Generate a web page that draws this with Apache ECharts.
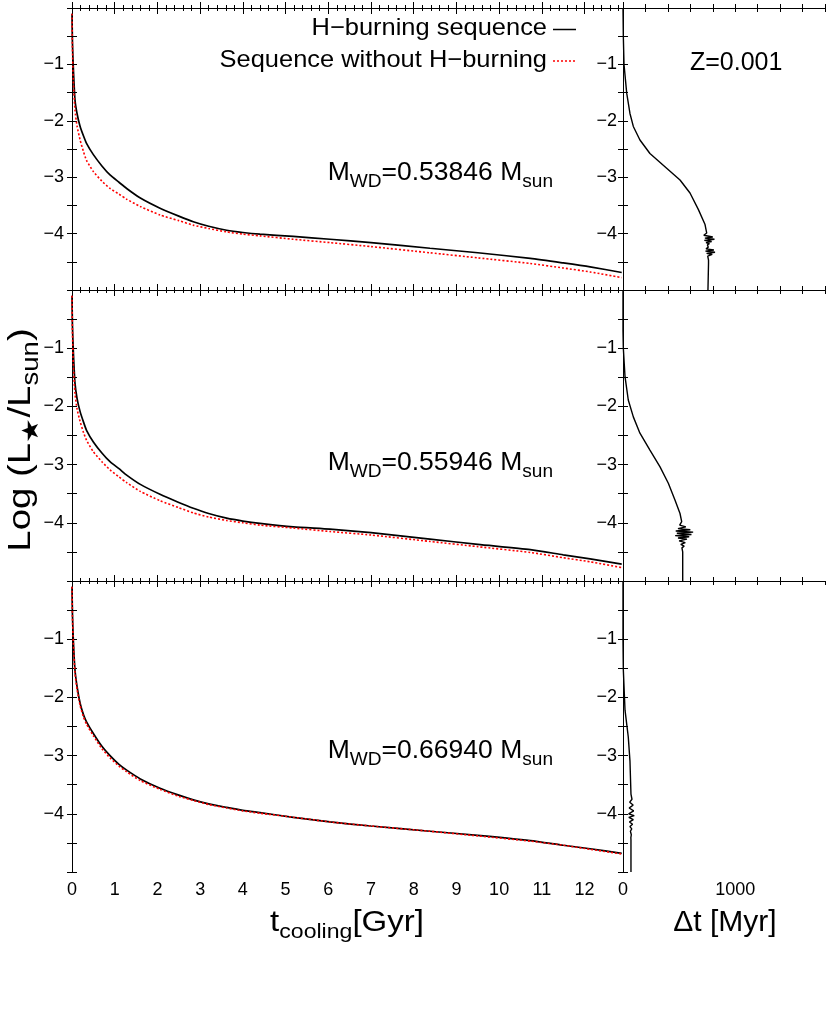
<!DOCTYPE html>
<html>
<head>
<meta charset="utf-8">
<script src="https://cdn.jsdelivr.net/npm/echarts@6/dist/echarts.min.js"></script>
<style>
  html, body { margin: 0; padding: 0; background: #fff; }
  #main { width: 830px; height: 1017px; }
</style>
</head>
<body>
<div id="main"></div>
<script>
// cooling times [Gyr] (shared sampling for the left panels)
const tCool = [0, 0.01, 0.03, 0.07, 0.12, 0.19, 0.27, 0.34, 0.5, 0.7, 0.89, 1.1, 1.28, 1.6, 2.06,
  2.5, 2.84, 3.2, 3.62, 4.0, 4.4, 5.18, 6.04, 7.0, 8.38, 9.5, 10.73, 11.5, 12.13, 12.87];

// log L for M=0.53846
const lumA_H = [-0.1, -0.6, -1.04, -1.63, -1.88, -2.1, -2.27, -2.4, -2.6, -2.8, -2.96, -3.09, -3.2, -3.37, -3.55,
  -3.69, -3.79, -3.87, -3.94, -3.98, -4.01, -4.05, -4.1, -4.16, -4.26, -4.34, -4.44, -4.52, -4.59, -4.69];
const lumA_noH = [-0.1, -0.7, -1.28, -1.81, -2.1, -2.34, -2.55, -2.7, -2.9, -3.07, -3.2, -3.3, -3.39, -3.52, -3.67,
  -3.77, -3.85, -3.91, -3.97, -4.01, -4.04, -4.1, -4.16, -4.23, -4.34, -4.43, -4.53, -4.61, -4.68, -4.78];

// log L for M=0.55946
const lumB_H = [-0.1, -0.6, -1.03, -1.6, -1.87, -2.09, -2.27, -2.41, -2.61, -2.8, -2.95, -3.07, -3.18, -3.34, -3.51,
  -3.65, -3.75, -3.84, -3.92, -3.97, -4.01, -4.07, -4.11, -4.17, -4.28, -4.37, -4.46, -4.55, -4.62, -4.71];
const lumB_noH = [-0.1, -0.7, -1.26, -1.78, -2.05, -2.26, -2.45, -2.58, -2.78, -2.95, -3.09, -3.21, -3.31, -3.46, -3.62,
  -3.74, -3.83, -3.9, -3.96, -4.0, -4.04, -4.09, -4.15, -4.21, -4.32, -4.41, -4.51, -4.6, -4.67, -4.77];

// log L for M=0.66940
const lumC_H = [-0.1, -0.55, -1.0, -1.53, -1.82, -2.1, -2.3, -2.42, -2.62, -2.84, -3.0, -3.15, -3.25, -3.4, -3.56,
  -3.68, -3.76, -3.83, -3.89, -3.94, -3.98, -4.06, -4.14, -4.21, -4.3, -4.37, -4.46, -4.54, -4.6, -4.68];
const lumC_noH = [-0.1, -0.6, -1.05, -1.58, -1.87, -2.14, -2.34, -2.46, -2.66, -2.88, -3.04, -3.18, -3.28, -3.43, -3.58,
  -3.7, -3.77, -3.84, -3.9, -3.95, -3.99, -4.06, -4.14, -4.21, -4.3, -4.38, -4.47, -4.54, -4.61, -4.69];

// time difference [Myr] vs log L (right panels)
const dtA = [0, 3, 9, 33, 62, 92, 151, 240, 389, 508, 597, 671, 731, 746,
  720, 800, 730, 815, 725, 790, 740, 770, 752, 760, 740, 810, 735, 820, 745, 795, 755, 770, 762, 762, 757, 757];
const dlA = [0, -0.51, -1.0, -1.51, -1.87, -2.1, -2.34, -2.58, -2.84, -3.05, -3.28, -3.57, -3.84, -3.99,
  -4.03, -4.06, -4.08, -4.1, -4.12, -4.14, -4.16, -4.18, -4.2, -4.24, -4.27, -4.29, -4.31, -4.33, -4.35, -4.37, -4.4, -4.43, -4.47, -4.53, -4.54, -5];

const dtB = [0, 0, 3, 18, 47, 92, 151, 240, 330, 404, 463, 508, 523,
  505, 560, 490, 600, 470, 625, 480, 610, 465, 590, 490, 570, 500, 555, 515, 545, 525, 532, 532];
const dlB = [0, -0.7, -1.0, -1.49, -1.89, -2.18, -2.46, -2.75, -3.04, -3.32, -3.61, -3.84, -3.98,
  -4.04, -4.07, -4.1, -4.12, -4.14, -4.16, -4.18, -4.2, -4.22, -4.24, -4.26, -4.28, -4.31, -4.34, -4.37, -4.4, -4.43, -4.5, -5];

const dtC = [0, 0, 3, 18, 47, 62, 71,
  80, 60, 90, 55, 95, 50, 100, 52, 92, 58, 85, 62, 78, 66, 74, 70, 71, 71];
const dlC = [0, -1.02, -1.53, -2.22, -2.68, -3.09, -3.66,
  -3.75, -3.8, -3.85, -3.9, -3.95, -4.0, -4.03, -4.06, -4.1, -4.14, -4.18, -4.22, -4.26, -4.3, -4.36, -4.41, -4.45, -5];

const tTicksMax = 12.9;
const dtMax = 1800;

const FONT = 'Liberation Sans, Arial, Helvetica, sans-serif';
const zip = (xs, ys) => xs.map((x, i) => [x, ys[i]]);

const grids = [
  { left: 72, top: 8, width: 551, height: 282 },
  { left: 72, top: 290, width: 551, height: 291 },
  { left: 72, top: 581, width: 551, height: 291 },
  { left: 623, top: 8, width: 202, height: 282 },
  { left: 623, top: 290, width: 202, height: 291 },
  { left: 623, top: 581, width: 202, height: 291 }
];

const lineCol = { lineStyle: { color: '#000', width: 1 } };
const minus = v => (v < 0 ? '\u2212' + Math.abs(v) : '' + v);

const xAxes = [];
const yAxes = [];
grids.forEach((g, i) => {
  const isRight = i >= 3;
  const row = i % 3;
  ['bottom', 'top'].forEach(pos => {
    xAxes.push({
      gridIndex: i, type: 'value', position: pos,
      min: 0, max: isRight ? dtMax : tTicksMax, interval: isRight ? 200 : 1,
      axisLine: lineCol,
      axisTick: { inside: true, length: isRight ? 4 : 6, lineStyle: { color: '#000' } },
      minorTick: { show: !isRight, splitNumber: 5, length: 3, lineStyle: { color: '#000' } },
      splitLine: { show: false },
      axisLabel: {
        show: pos === 'bottom' && row === 2,
        margin: 9, color: '#000', fontSize: 18, fontFamily: FONT,
        showMaxLabel: false,
        formatter: v => isRight ? (v === 0 || v === 1000 ? '' + v : '') : '' + v
      }
    });
  });
  ['left', 'right'].forEach(pos => {
    yAxes.push({
      gridIndex: i, type: 'value', position: pos,
      min: -5, max: 0, interval: 1,
      axisLine: lineCol,
      axisTick: { inside: true, length: 5, lineStyle: { color: '#000' } },
      minorTick: { show: true, splitNumber: 2, length: 5, lineStyle: { color: '#000' } },
      splitLine: { show: false },
      axisLabel: {
        show: pos === 'left',
        margin: isRight ? 6 : 8, color: '#000', fontSize: 18, fontFamily: FONT,
        showMinLabel: false, showMaxLabel: false,
        formatter: minus
      }
    });
  });
});

function curve(name, grid, data, red) {
  return {
    name: name, type: 'line', xAxisIndex: grid * 2, yAxisIndex: grid * 2,
    data: data, symbol: 'none',
    smooth: grid < 3 ? 0.2 : false,
    lineStyle: red
      ? { color: '#ff0000', width: 1.6, type: [2, 2] }
      : { color: '#000', width: grid < 3 ? 1.7 : 1.4 },
    z: red ? 3 : 2
  };
}

const series = [
  curve('H-burning sequence', 0, zip(tCool, lumA_H), false),
  curve('Sequence without H-burning', 0, zip(tCool, lumA_noH), true),
  curve('H-burning sequence', 1, zip(tCool, lumB_H), false),
  curve('Sequence without H-burning', 1, zip(tCool, lumB_noH), true),
  curve('H-burning sequence', 2, zip(tCool, lumC_H), false),
  curve('Sequence without H-burning', 2, zip(tCool, lumC_noH), true),
  curve('dt A', 3, zip(dtA, dlA), false),
  curve('dt B', 4, zip(dtB, dlB), false),
  curve('dt C', 5, zip(dtC, dlC), false)
];

// rich text styles: main text + subscript
function richStyles(main, sub) {
  return {
    m: { fontSize: main, fontFamily: FONT, fill: '#000', lineHeight: main + 1, verticalAlign: 'top' },
    s: { fontSize: sub, fontFamily: FONT, fill: '#000', lineHeight: sub + 2, padding: [Math.round(main * 0.48), 0, 0, 0], verticalAlign: 'top' }
  };
}

function massLabel(y, mass) {
  return {
    type: 'text', x: 553, y: y, scaleX: 1.06, z: 10,
    style: {
      text: '{m|M}{s|WD}{m|=' + mass + ' M}{s|sun}',
      rich: richStyles(25, 18), align: 'right', verticalAlign: 'top'
    }
  };
}

const graphics = [
  { type: 'text', x: 547, y: 16, scaleX: 1.06, z: 10,
    style: { text: 'H\u2212burning sequence', font: '24px ' + FONT, fill: '#000', align: 'right', verticalAlign: 'top' } },
  { type: 'text', x: 547, y: 48, scaleX: 1.06, z: 10,
    style: { text: 'Sequence without H\u2212burning', font: '24px ' + FONT, fill: '#000', align: 'right', verticalAlign: 'top' } },
  { type: 'line', z: 10, shape: { x1: 553, y1: 29.5, x2: 576, y2: 29.5 }, style: { stroke: '#000', lineWidth: 1.5 } },
  { type: 'line', z: 10, shape: { x1: 553, y1: 61, x2: 576, y2: 61 }, style: { stroke: '#ff0000', lineWidth: 1.5, lineDash: [2, 2] } },
  { type: 'text', x: 690, y: 51, z: 10,
    style: { text: 'Z=0.001', font: '25px ' + FONT, fill: '#000', align: 'left', verticalAlign: 'top' } },
  massLabel(161, '0.53846'),
  massLabel(451, '0.55946'),
  massLabel(739, '0.66940'),
  { type: 'text', x: 347, y: 908, scaleX: 1.1, z: 10,
    style: { text: '{m|t}{s|cooling}{m|[Gyr]}', rich: richStyles(30, 21), align: 'center', verticalAlign: 'top' } },
  { type: 'text', x: 725, y: 908, z: 10,
    style: { text: '\u0394t [Myr]', font: '30px ' + FONT, fill: '#000', align: 'center', verticalAlign: 'top' } },
  { type: 'text', x: 5, y: 440, rotation: Math.PI / 2, scaleX: 1.2, z: 10,
    style: { text: '{m|Log (L}{s|\u2605}{m|/L}{s|sun}{m|)}', rich: richStyles(32, 23), align: 'center', verticalAlign: 'top' } }
];

const chart = echarts.init(document.getElementById('main'), null, { renderer: 'canvas' });
chart.setOption({
  animation: false,
  backgroundColor: '#fff',
  grid: grids,
  xAxis: xAxes,
  yAxis: yAxes,
  series: series,
  graphic: graphics
});
</script>
</body>
</html>
